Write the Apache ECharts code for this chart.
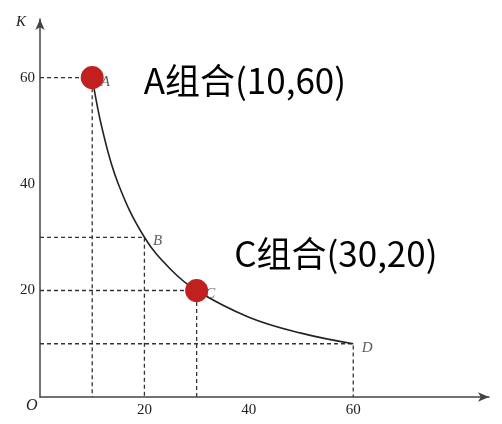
<!DOCTYPE html>
<html><head><meta charset="utf-8">
<script src="https://cdn.jsdelivr.net/npm/echarts@6/dist/echarts.min.js"></script>
<style>html,body{margin:0;padding:0;background:#fff}#c{width:502px;height:424px}</style>
</head><body><div id="c"></div>
<script>
// Curve points (isoquant)
const curveL = [10, 12, 15, 20, 25, 30, 40, 50, 60];
const curveK = [60, 50, 40, 30, 24, 20, 15, 12, 10];
// Labelled points
const pointNames = ['A', 'B', 'C', 'D'];
const pointL = [10, 20, 30, 60];
const pointK = [60, 30, 20, 10];
// Highlighted combinations
const hiNames = ['A组合(10,60)', 'C组合(30,20)'];
const hiL = [10, 30];
const hiK = [60, 20];
const tickValues = [20, 40, 60];

const chart = echarts.init(document.getElementById('c'));
const serif = '"Liberation Serif", "DejaVu Serif", serif';
const guideSeries = pointL.map((L, i) => ({
  type: 'line', data: [[0, pointK[i]], [L, pointK[i]], [L, 0]],
  symbol: 'none', silent: true, z: 1,
  lineStyle: { color: '#333', width: 1.3, type: [4, 3] }
}));
chart.setOption({
  animation: false,
  grid: { left: 40, right: 13, top: 19, bottom: 27 },
  xAxis: {
    type: 'value', min: 0, max: 86, interval: 20,
    axisLine: { lineStyle: { color: '#444', width: 1.5 }, symbol: ['none', 'arrow'], symbolSize: [7, 11] },
    axisTick: { show: false }, splitLine: { show: false },
    axisLabel: { margin: 6, color: '#222', fontFamily: serif, fontSize: 15,
      formatter: v => tickValues.includes(v) ? String(v) : '' }
  },
  yAxis: {
    type: 'value', min: 0, max: 71, interval: 20,
    axisLine: { lineStyle: { color: '#444', width: 1.5 }, symbol: ['none', 'arrow'], symbolSize: [7, 11] },
    axisTick: { show: false }, splitLine: { show: false },
    axisLabel: { margin: 5, color: '#222', fontFamily: serif, fontSize: 15,
      formatter: v => tickValues.includes(v) ? String(v) : '' }
  },
  graphic: [
    { type: 'text', left: 16, top: 15, style: { text: 'K', font: 'italic 15px ' + serif, fill: '#222' } },
    { type: 'text', left: 26, top: 398, style: { text: 'O', font: 'italic 16px ' + serif, fill: '#222' } }
  ],
  series: [
    ...guideSeries,
    {
      type: 'line', data: curveL.map((L, i) => [L, curveK[i]]), smooth: 0.4,
      symbol: 'none', z: 3, lineStyle: { color: '#222', width: 1.6 }
    },
    {
      type: 'scatter', data: pointL.map((L, i) => ({ value: [L, pointK[i]], name: pointNames[i] })),
      symbolSize: 1, itemStyle: { color: 'rgba(0,0,0,0)' }, z: 4,
      label: { show: true, position: 'right', distance: 8, formatter: p => p.name,
        fontFamily: serif, fontStyle: 'italic', fontSize: 15, color: '#333', offset: [0, 4] }
    },
    {
      type: 'scatter', data: hiL.map((L, i) => ({ value: [L, hiK[i]], name: hiNames[i],
        label: i === 0 ? { distance: 40, offset: [0, 3] } : { distance: 26, offset: [0, -37] } })),
      symbolSize: 23, itemStyle: { color: '#c0211e', opacity: 1 }, z: 5,
      label: { show: true, position: 'right', formatter: p => p.name,
        fontFamily: '"Noto Sans CJK SC", "Noto Sans", sans-serif', fontSize: 35, color: '#000' }
    }
  ]
});
</script></body></html>
